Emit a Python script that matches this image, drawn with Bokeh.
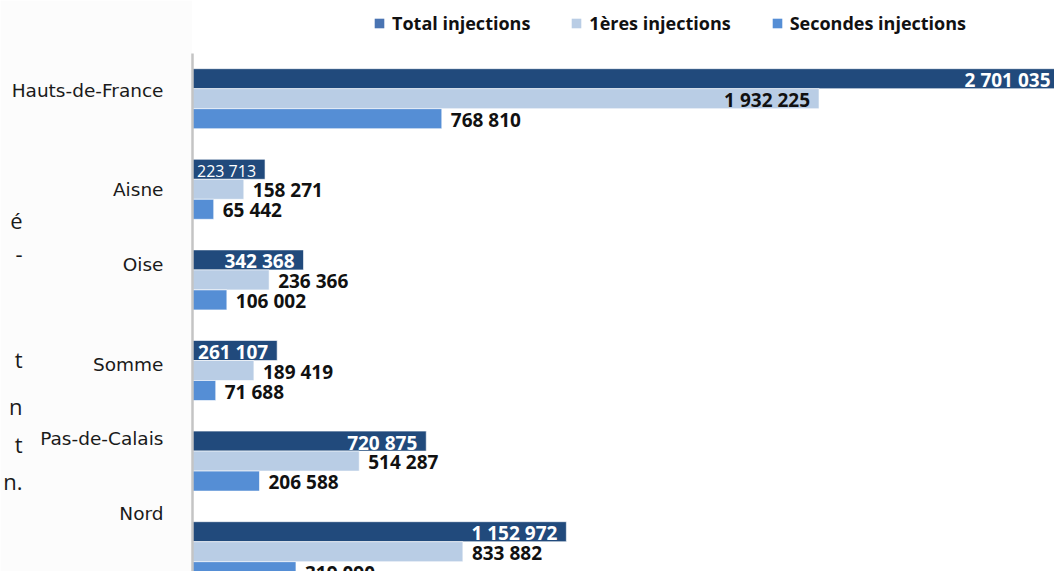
from bokeh.plotting import figure
from bokeh.models import ColumnDataSource, Range1d, FixedTicker, Legend, LegendItem, LinearAxis
from bokeh.embed import file_html
from bokeh.resources import INLINE
from bokeh.core.properties import value

# ---------------- data ----------------
regions = ["Hauts-de-France", "Aisne", "Oise", "Somme", "Pas-de-Calais", "Nord"]
total_injections = [2701035, 223713, 342368, 261107, 720875, 1152972]
first_injections = [1932225, 158271, 236366, 189419, 514287, 833882]
second_injections = [768810, 65442, 106002, 71688, 206588, 319090]
series_names = ["Total injections", "1ères injections", "Secondes injections"]
side_text = ["é", "-", "t", "n", "t", "n."]   # cut-off line ends of the neighbouring paragraph

# ---------------- layout / style ----------------
W, H = 1054, 571
AXIS_X = 192                      # canvas px of the vertical axis
PX_PER_UNIT = 1 / 3084.0          # horizontal scale
X_END = (W - AXIS_X) / PX_PER_UNIT
GROUP0, PERIOD, BAR_H = 78.2, 90.6, 20.0
label_pos = [90, 189, 264, 364, 438, 513]
side_pos = [219, 252, 358, 405, 443, 480]
first_inside = [True, False, False, False, False, False]
total_label_style = ["bold", "normal", "bold", "bold", "bold", "bold"]
total_label_size = ["19px", "16px", "19px", "19px", "19px", "19px"]

C_TOTAL, C_FIRST, C_SECOND = "#214a7c", "#b9cde5", "#558ed5"
C_LEG_TOTAL = "#4a74b2"


def fmt(v):
    return f"{v:,}".replace(",", " ")


n = len(regions)
y_total = [GROUP0 + PERIOD * i for i in range(n)]
y_first = [y + BAR_H for y in y_total]
y_second = [y + 2 * BAR_H for y in y_total]

p = figure(width=W, height=H, output_backend="svg", toolbar_location=None,
           x_range=Range1d(0, X_END), y_range=Range1d(H, 0),
           x_axis_location=None, min_border_left=AXIS_X, min_border_right=0,
           min_border_top=0, min_border_bottom=0)
p.outline_line_color = None
p.grid.grid_line_color = None
p.border_fill_color = "#fcfcfc"
p.background_fill_color = "white"

bar_line = dict(line_color="white", line_width=1, line_alpha=0.6)
src_t = ColumnDataSource(dict(y=y_total, right=total_injections))
src_f = ColumnDataSource(dict(y=y_first, right=first_injections))
src_s = ColumnDataSource(dict(y=y_second, right=second_injections))
p.hbar(y="y", right="right", left=0, height=BAR_H, source=src_t, fill_color=C_TOTAL, **bar_line)
p.hbar(y="y", right="right", left=0, height=BAR_H, source=src_f, fill_color=C_FIRST, **bar_line)
p.hbar(y="y", right="right", left=0, height=BAR_H, source=src_s, fill_color=C_SECOND, **bar_line)

# white labels inside the total bars (kept inside the canvas)
t_off = []
for v in total_injections:
    end_px = AXIS_X + v * PX_PER_UNIT
    t_off.append(-9 if end_px - 9 <= W - 4 else (W - 4) - end_px)
p.text(x="x", y="y", text="text", source=ColumnDataSource(dict(
    x=total_injections, y=[y + 1.5 for y in y_total], text=[fmt(v) for v in total_injections],
    style=total_label_style, size=total_label_size, off=t_off)),
    text_align="right", text_baseline="middle", x_offset="off", text_color="white",
    text_font=value("Open Sans"), text_font_style="style", text_font_size="size")

# black labels for first / second injections
bx, by, bt, ba, bo = [], [], [], [], []
for i in range(n):
    bx.append(first_injections[i]); by.append(y_first[i] + 1); bt.append(fmt(first_injections[i]))
    ba.append("right" if first_inside[i] else "left"); bo.append(-9 if first_inside[i] else 9)
    bx.append(second_injections[i]); by.append(y_second[i] + 1); bt.append(fmt(second_injections[i]))
    ba.append("left"); bo.append(9)
p.text(x="x", y="y", text="text", source=ColumnDataSource(dict(x=bx, y=by, text=bt, align=ba, off=bo)),
       text_align="align", x_offset="off", text_baseline="middle", text_color="#111111",
       text_font=value("Open Sans"), text_font_style="bold", text_font_size="19px")

# axis with category labels
ax = p.yaxis[0]
ax.ticker = FixedTicker(ticks=label_pos)
ax.major_label_overrides = {pos: name for pos, name in zip(label_pos, regions)}
ax.bounds = (53, H)
ax.axis_line_color = "#c4c4c4"
ax.axis_line_width = 2.5
ax.major_tick_line_color = None
ax.minor_tick_line_color = None
ax.major_tick_out = 0
ax.major_tick_in = 0
ax.major_label_standoff = 29
ax.major_label_text_font = "DejaVu Sans"
ax.major_label_text_font_size = "18.5px"
ax.major_label_text_color = "#1a1a1a"

# outer axis carrying the cut-off line ends of the neighbouring text
side_ax = LinearAxis(ticker=FixedTicker(ticks=side_pos),
                     major_label_overrides={pos: t for pos, t in zip(side_pos, side_text)},
                     axis_line_color=None, major_tick_line_color=None, minor_tick_line_color=None,
                     major_tick_out=0, major_tick_in=0, major_label_standoff=-14,
                     major_label_text_font="Open Sans", major_label_text_font_size="22px",
                     major_label_text_color="#1a1a1a")
p.add_layout(side_ax, "left")

# legend (proxy glyphs of zero width carry the legend colours)
leg_colors = [C_LEG_TOTAL, C_FIRST, C_SECOND]
items = []
for name, c in zip(series_names, leg_colors):
    r = p.hbar(y="y", right="right", left=0, height=1,
               source=ColumnDataSource(dict(y=[0], right=[0])),
               fill_color=c, line_color=None)
    items.append(LegendItem(label=name, renderers=[r]))
legend = Legend(items=items, orientation="horizontal", location=(181, 536),
                glyph_width=12, glyph_height=12, label_standoff=7, spacing=40,
                padding=0, margin=0, border_line_color=None, background_fill_alpha=0,
                label_text_font="Open Sans", label_text_font_style="bold",
                label_text_font_size="18px", label_text_color="#111111")
p.add_layout(legend)

open("out.html", "w").write(file_html(p, INLINE))
